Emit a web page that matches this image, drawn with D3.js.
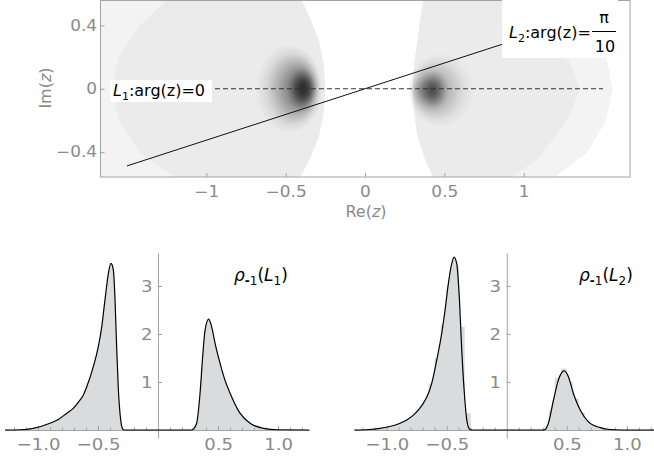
<!DOCTYPE html>
<html>
<head>
<meta charset="utf-8">
<script src="https://cdn.jsdelivr.net/npm/d3@7"></script>
<style>
  body { margin: 0; background: #fff; }
  svg { display: block; font-family: "DejaVu Sans", "Liberation Sans", sans-serif; }
  svg text { font-family: "DejaVu Sans", "Liberation Sans", sans-serif; }
</style>
</head>
<body>
<svg id="chart" width="654" height="459"></svg>
<script>
// ---------- data ----------
const reTicks = [-1, -0.5, 0, 0.5, 1];
const reTickLabels = ["−1", "−0.5", "0", "0.5", "1"];
const imTicks = [-0.4, 0, 0.4];
const imTickLabels = ["−0.4", "0", "0.4"];

// the two rays through the origin (arg 0 and arg pi/10)
const lineL1 = [[-1.5, 0], [1.5, 0]];
const lineL2 = [[-1.5, -0.487], [1.5, 0.487]];

// light grey support of the 2D histogram
const leftHaze = [[-1.67, 0.557], [-0.40, 0.557], [-0.34, 0.43], [-0.29, 0.30], [-0.26, 0.15], [-0.25, 0],
  [-0.26, -0.15], [-0.29, -0.30], [-0.35, -0.45], [-0.41, -0.557], [-1.67, -0.557]];
const leftSolid = [[-1.25, 0.557], [-0.40, 0.557], [-0.34, 0.43], [-0.29, 0.30], [-0.26, 0.15], [-0.25, 0],
  [-0.26, -0.15], [-0.29, -0.30], [-0.35, -0.45], [-0.41, -0.557], [-1.2, -0.557], [-1.42, -0.4],
  [-1.55, -0.2], [-1.6, 0], [-1.55, 0.2], [-1.42, 0.4]];
const rightHaze = [[0.36, 0.557], [1.2, 0.557], [1.4, 0.4], [1.52, 0.2], [1.56, 0], [1.52, -0.2], [1.4, -0.4],
  [1.2, -0.557], [0.43, -0.557], [0.38, -0.45], [0.33, -0.3], [0.31, -0.15], [0.30, 0], [0.31, 0.15],
  [0.33, 0.3], [0.35, 0.45]];
const rightSolid = [[0.37, 0.557], [0.92, 0.557], [1.08, 0.45], [1.2, 0.3], [1.3, 0.15], [1.35, 0],
  [1.3, -0.15], [1.2, -0.3], [1.08, -0.45], [0.92, -0.557], [0.43, -0.557], [0.38, -0.45], [0.33, -0.3],
  [0.31, -0.15], [0.30, 0], [0.31, 0.15], [0.33, 0.3], [0.35, 0.45]];

// dark density blobs: centre, half widths, focus (0..1 across the box), peak darkness
const blobX = [-0.48, -0.40, 0.48, 0.435];
const blobY = [0, 0, -0.01, -0.01];
const blobRX = [0.21, 0.09, 0.21, 0.095];
const blobRY = [0.28, 0.135, 0.23, 0.125];
const blobFocus = [0.78, 0.55, 0.22, 0.45];
const blobPeak = [0.72, 0.8, 0.5, 0.6];

// bottom panels
const rhoTicks = [-1, -0.5, 0.5, 1];
const rhoTickLabels = ["−1.0", "−0.5", "0.5", "1.0"];
const rhoYTicks = [1, 2, 3];
const rhoYTickLabels = ["1", "2", "3"];

const l1X = [-1.275, -1.15, -1.04, -0.9, -0.83, -0.76, -0.706, -0.66, -0.622, -0.594, -0.539, -0.497, -0.469,
  -0.442, -0.414, -0.392, -0.372, -0.358, -0.344, -0.33, -0.311, -0.294, -0.28, 0.28, 0.294, 0.322, 0.35, 0.372,
  0.392, 0.422, 0.447, 0.475, 0.517, 0.558, 0.614, 0.683, 0.767, 0.878, 1.0, 1.26];
const l1Y = [0, 0.005, 0.035, 0.14, 0.22, 0.35, 0.45, 0.59, 0.73, 0.9, 1.32, 1.74, 2.15,
  2.71, 3.26, 3.47, 3.33, 2.71, 1.67, 0.83, 0.21, 0.02, 0, 0, 0.02, 0.14, 0.76, 1.53,
  2.08, 2.31, 2.15, 1.81, 1.39, 1.04, 0.69, 0.35, 0.14, 0.035, 0.005, 0];

const l2X = [-1.27, -1.15, -1.056, -0.889, -0.833, -0.778, -0.736, -0.694, -0.653, -0.625, -0.583, -0.542, -0.514,
  -0.486, -0.458, -0.439, -0.417, -0.394, -0.375, -0.353, -0.333, -0.311, -0.295, 0.30, 0.319, 0.347, 0.389, 0.43,
  0.478, 0.514, 0.555, 0.611, 0.68, 0.778, 0.86, 0.95, 1.26];
const l2Y = [0, 0.01, 0.035, 0.14, 0.21, 0.31, 0.42, 0.56, 0.76, 0.97, 1.46, 2.01, 2.5,
  3.06, 3.47, 3.6, 3.47, 2.71, 1.67, 0.76, 0.21, 0.02, 0, 0, 0.01, 0.14, 0.62, 1.04,
  1.23, 1.11, 0.76, 0.42, 0.17, 0.05, 0.01, 0, 0];

const l2BinLeft = [-1.0, -0.95, -0.9, -0.85, -0.8, -0.75, -0.7, -0.65, -0.6, -0.55, -0.5, -0.45, -0.4, -0.35,
  0.35, 0.4, 0.45, 0.5, 0.55, 0.6, 0.65, 0.7, 0.75, 0.8];
const l2BinH = [0.03, 0.06, 0.1, 0.16, 0.26, 0.42, 0.6, 0.97, 1.5, 2.19, 3.0, 3.44, 2.15, 0.35,
  0.4, 1.09, 1.28, 1.0, 0.65, 0.36, 0.2, 0.1, 0.05, 0.02];
const binWidth = 0.05;

// ---------- drawing ----------
const svg = d3.select("#chart");
const axisGrey = "#a3a3a3", labelGrey = "#8a8a8a";
const defs = svg.append("defs");

// tick numbers in the original are set wider than DejaVu, so stretch them a little
function styleAxis(a, size) {
  a.attr("font-family", null).attr("font-size", null);
  a.selectAll(".domain").attr("stroke", axisGrey);
  a.selectAll("line").attr("stroke", axisGrey);
  a.selectAll("text").attr("fill", labelGrey).style("font-size", size + "px")
    .attr("transform", "scale(1.13,1)");
}

// ----- top panel: complex plane
const xT = d3.scaleLinear([-1.67, 1.67], [100, 630]);
const yT = d3.scaleLinear([-0.557, 0.557], [177, 0.5]);

defs.append("clipPath").attr("id", "frameClip")
  .append("rect").attr("x", 100).attr("y", 0.5).attr("width", 530).attr("height", 176.5);

const topG = svg.append("g");
const plane = topG.append("g").attr("clip-path", "url(#frameClip)");
const poly = d3.line().x(d => xT(d[0])).y(d => yT(d[1]));

plane.selectAll("path.haze").data([leftHaze, rightHaze]).join("path")
  .attr("class", "haze").attr("d", d => poly(d) + "Z").attr("fill", "#f3f3f3");
plane.selectAll("path.solid").data([leftSolid, rightSolid]).join("path")
  .attr("class", "solid").attr("d", d => poly(d) + "Z").attr("fill", "#ebebeb");

const stopOffsets = [0, 0.2, 0.4, 0.6, 0.8, 1];
const stopShape = [1, 0.88, 0.64, 0.36, 0.12, 0];
blobX.forEach((bx, i) => {
  const g = defs.append("radialGradient").attr("id", "blob" + i)
    .attr("cx", 0.5).attr("cy", 0.5).attr("r", 0.5)
    .attr("fx", blobFocus[i]).attr("fy", 0.5);
  stopOffsets.forEach((o, k) => {
    g.append("stop").attr("offset", o).attr("stop-color", "#1e1e1e")
      .attr("stop-opacity", blobPeak[i] * stopShape[k]);
  });
  plane.append("ellipse")
    .attr("cx", xT(bx)).attr("cy", yT(blobY[i]))
    .attr("rx", xT(blobRX[i]) - xT(0)).attr("ry", yT(0) - yT(blobRY[i]))
    .attr("fill", `url(#blob${i})`);
});

plane.append("path").attr("d", poly(lineL1))
  .attr("stroke", "#333").attr("stroke-width", 1).attr("stroke-dasharray", "5,3").attr("fill", "none");
plane.append("path").attr("d", poly(lineL2))
  .attr("stroke", "#111").attr("stroke-width", 1).attr("fill", "none");

// frame and ticks
topG.append("rect").attr("x", 100.5).attr("y", 0.5).attr("width", 529.5).attr("height", 176.5)
  .attr("fill", "none").attr("stroke", axisGrey);

const xAxisT = topG.append("g").attr("transform", "translate(0,177)")
  .call(d3.axisBottom(xT).tickValues(reTicks).tickFormat((d, i) => reTickLabels[i])
    .tickSize(-4).tickSizeOuter(0).tickPadding(9));
const yAxisT = topG.append("g").attr("transform", "translate(100.5,0)")
  .call(d3.axisLeft(yT).tickValues(imTicks).tickFormat((d, i) => imTickLabels[i])
    .tickSize(-4).tickSizeOuter(0).tickPadding(3));
[xAxisT, yAxisT].forEach(a => { a.select(".domain").remove(); styleAxis(a, 15); });

const reLab = topG.append("text").attr("x", 366).attr("y", 217).attr("text-anchor", "middle")
  .attr("fill", labelGrey).style("font-size", "16px");
reLab.append("tspan").text("Re(");
reLab.append("tspan").attr("font-style", "italic").text("z");
reLab.append("tspan").text(")");

const imLab = topG.append("text").attr("transform", "translate(51,88) rotate(-90)").attr("text-anchor", "middle")
  .attr("fill", labelGrey).style("font-size", "16px");
imLab.append("tspan").text("Im(");
imLab.append("tspan").attr("font-style", "italic").text("z");
imLab.append("tspan").text(")");

// L1 label
topG.append("rect").attr("x", 110).attr("y", 80).attr("width", 102).attr("height", 22).attr("fill", "#fff");
const l1Lab = topG.append("text").attr("x", 113).attr("y", 96).style("font-size", "16px").attr("fill", "#000");
l1Lab.append("tspan").attr("font-style", "italic").text("L");
l1Lab.append("tspan").attr("dy", 4).style("font-size", "11px").text("1");
l1Lab.append("tspan").attr("dy", -4).text(":arg(z)=0");

// L2 label
topG.append("rect").attr("x", 502).attr("y", 0).attr("width", 116).attr("height", 58).attr("fill", "#fff");
const l2Lab = topG.append("text").attr("x", 509).attr("y", 38).style("font-size", "16px").attr("fill", "#000");
l2Lab.append("tspan").attr("font-style", "italic").text("L");
l2Lab.append("tspan").attr("dy", 4).style("font-size", "11px").text("2");
l2Lab.append("tspan").attr("dy", -4).text(":arg(z)=");
topG.append("text").attr("x", 604).attr("y", 23).attr("text-anchor", "middle").style("font-size", "16px").text("π");
topG.append("line").attr("x1", 592).attr("x2", 616).attr("y1", 31.5).attr("y2", 31.5).attr("stroke", "#000");
topG.append("text").attr("x", 605).attr("y", 52).attr("text-anchor", "middle").style("font-size", "16px").text("10");

// ----- bottom panels: densities along L1 and L2
const yB = d3.scaleLinear([0, 3.69], [430, 252.9]);

function densityPanel(xs, curveX, curveY, binLeft, binH, labelSub, labelX) {
  const g = svg.append("g");
  const pts = curveX.map((x, i) => [x, curveY[i]]);
  g.append("path").datum(pts)
    .attr("d", d3.area().x(d => xs(d[0])).y0(yB(0)).y1(d => yB(d[1])).curve(d3.curveMonotoneX))
    .attr("fill", "#dadbdc");
  g.selectAll("rect.bin").data(binLeft).join("rect").attr("class", "bin")
    .attr("x", d => xs(d)).attr("width", d => xs(d + binWidth) - xs(d))
    .attr("y", (d, i) => yB(binH[i])).attr("height", (d, i) => yB(0) - yB(binH[i]))
    .attr("fill", "#dadbdc");

  const xd = xs.domain();
  const minor = d3.range(-12, 13).map(k => k / 10)
    .filter(v => v >= xd[0] && v <= xd[1] && Math.abs(v * 2 - Math.round(v * 2)) > 1e-6);
  const ax = g.append("g").attr("transform", `translate(0,${yB(0)})`);
  ax.append("g").call(d3.axisBottom(xs).tickValues(minor).tickFormat("").tickSize(-2.5).tickSizeOuter(0));
  ax.append("g").call(d3.axisBottom(xs).tickValues(rhoTicks).tickFormat((d, i) => rhoTickLabels[i])
    .tickSize(-4).tickSizeOuter(0).tickPadding(8.5));
  const ay = g.append("g").attr("transform", `translate(${xs(0)},0)`);
  ay.call(d3.axisLeft(d3.scaleLinear([-0.167, 3.69], [438, 252.9])).tickValues(rhoYTicks)
    .tickFormat((d, i) => rhoYTickLabels[i]).tickSize(-4).tickSizeOuter(0).tickPadding(5));
  ax.selectAll("g").each(function () { styleAxis(d3.select(this), 16); });
  styleAxis(ay, 16);

  g.append("path").datum(pts)
    .attr("d", d3.line().x(d => xs(d[0])).y(d => yB(d[1])).curve(d3.curveMonotoneX))
    .attr("fill", "none").attr("stroke", "#000").attr("stroke-width", 1.2);

  const t = g.append("text").attr("x", labelX).attr("y", 281).style("font-size", "17px").attr("fill", "#000");
  t.append("tspan").attr("font-style", "italic").text("ρ");
  t.append("tspan").attr("dy", 4).style("font-size", "12px").attr("font-weight", "bold").text("-");
  t.append("tspan").style("font-size", "12px").text("1");
  t.append("tspan").attr("dy", -4).text("(");
  t.append("tspan").attr("font-style", "italic").text("L");
  t.append("tspan").attr("dy", 4).style("font-size", "12px").text(labelSub);
  t.append("tspan").attr("dy", -4).text(")");
}

densityPanel(d3.scaleLinear([-1.275, 1.258], [5, 309]), l1X, l1Y, [], [], "1", 234);
densityPanel(d3.scaleLinear([-1.27, 1.26], [354.3, 658]), l2X, l2Y, l2BinLeft, l2BinH, "2", 579);
</script>
</body>
</html>
